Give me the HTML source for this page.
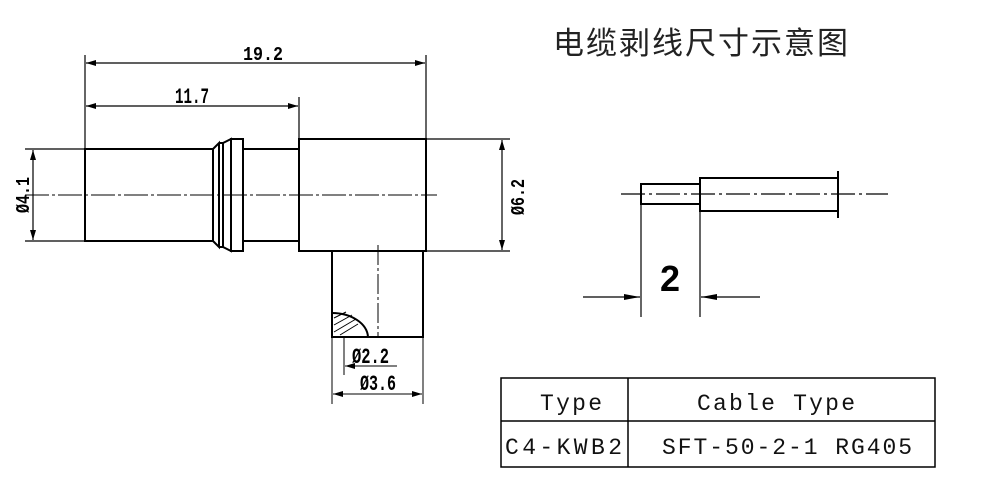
<!DOCTYPE html>
<html><head><meta charset="utf-8"><style>
body{margin:0;background:#fff;width:1000px;height:487px;overflow:hidden}
svg{display:block}
.m{font-family:"Liberation Mono",monospace}
</style></head><body>
<svg width="1000" height="487" viewBox="0 0 1000 487" xmlns="http://www.w3.org/2000/svg">
<defs>
<marker id="a" viewBox="0 0 10 6" refX="10" refY="3" markerWidth="10" markerHeight="6" orient="auto-start-reverse" markerUnits="userSpaceOnUse"><path d="M0,0 L10,3 L0,6z" fill="#000"/></marker>
<marker id="b" viewBox="0 0 16 8" refX="16" refY="4" markerWidth="16" markerHeight="8" orient="auto-start-reverse" markerUnits="userSpaceOnUse"><path d="M0,1 L16,4 L0,7z" fill="#000"/></marker>
</defs>
<text x="553" y="54" font-family="Liberation Sans,'Noto Sans CJK SC',sans-serif" font-size="31" letter-spacing="2" fill="#222">电缆剥线尺寸示意图</text>
<g stroke="#000" fill="none" stroke-width="1.2">
<line x1="85" y1="55" x2="85" y2="149"/><line x1="426" y1="55" x2="426" y2="139"/>
<line x1="86" y1="63" x2="425" y2="63" marker-start="url(#a)" marker-end="url(#a)"/>
<line x1="299" y1="97" x2="299" y2="139"/>
<line x1="86" y1="106" x2="298" y2="106" marker-start="url(#a)" marker-end="url(#a)"/>
<line x1="25" y1="149" x2="85" y2="149"/><line x1="25" y1="241" x2="85" y2="241"/>
<line x1="33" y1="150" x2="33" y2="240" marker-start="url(#a)" marker-end="url(#a)"/>
<line x1="426" y1="139" x2="510" y2="139"/><line x1="426" y1="251" x2="510" y2="251"/>
<line x1="502" y1="140" x2="502" y2="250" marker-start="url(#a)" marker-end="url(#a)"/>
</g>
<g stroke="#000" fill="none" stroke-width="2">
<rect x="85" y="149" width="128" height="92"/>
<path d="M213 149 L219 143 L219 247 L213 241"/>
<path d="M219 143 H223 V247 H219"/>
<path d="M223 143 L231 139 L231 251 L223 247"/>
<rect x="231" y="139" width="12" height="112"/>
<rect x="243" y="149" width="56" height="92"/>
<rect x="299" y="139" width="127" height="112"/>
<rect x="332" y="251" width="91" height="86"/>
<path d="M332 313 A36 25 0 0 1 368 337"/>
</g>
<g stroke="#000" stroke-width="1">
<path d="M334 318 L346 312 M334 325 L352 315 M334 332 L356 319 M340 335 L358 324"/>
<line x1="25" y1="195" x2="437" y2="195" stroke-dasharray="24,3,3,3"/>
<line x1="378" y1="245" x2="378" y2="337" stroke-dasharray="20,3,3,3"/>
<line x1="344" y1="337" x2="344" y2="375"/>
<line x1="397" y1="366" x2="345" y2="366" marker-end="url(#a)"/>
<line x1="332" y1="337" x2="332" y2="404"/><line x1="423" y1="337" x2="423" y2="404"/>
<line x1="333" y1="394" x2="422" y2="394" marker-start="url(#a)" marker-end="url(#a)"/>
</g>
<g class="m" font-weight="bold" fill="#000" font-size="22">
<text x="243" y="60" textLength="40" lengthAdjust="spacingAndGlyphs" font-size="19">19.2</text>
<text x="175" y="103" textLength="34" lengthAdjust="spacingAndGlyphs">11.7</text>
<text x="352" y="363" textLength="37" lengthAdjust="spacingAndGlyphs">Ø2.2</text>
<text x="360" y="390" textLength="36" lengthAdjust="spacingAndGlyphs">Ø3.6</text>
<text transform="translate(29,213) rotate(-90)" textLength="36" lengthAdjust="spacingAndGlyphs" font-size="19">Ø4.1</text>
<text transform="translate(524,215) rotate(-90)" textLength="36" lengthAdjust="spacingAndGlyphs" font-size="19">Ø6.2</text>
</g>
<g stroke="#000" fill="none" stroke-width="2">
<rect x="641" y="184" width="59" height="20"/>
<rect x="700" y="178" width="138" height="33"/>
<line x1="838" y1="171" x2="838" y2="218"/>
</g>
<g stroke="#000" stroke-width="1.2">
<line x1="621" y1="194" x2="888" y2="194" stroke-dasharray="24,4,3,4"/>
<line x1="641" y1="204" x2="641" y2="317"/><line x1="700" y1="211" x2="700" y2="317"/>
<line x1="583" y1="297" x2="640" y2="297" marker-end="url(#b)"/>
<line x1="760" y1="297" x2="701" y2="297" marker-end="url(#b)"/>
</g>
<text x="660" y="291" font-family="Liberation Sans,sans-serif" font-weight="bold" font-size="36" fill="#000">2</text>
<g stroke="#000" fill="none" stroke-width="1.5">
<rect x="501" y="378" width="434" height="89"/>
<line x1="501" y1="421" x2="935" y2="421"/>
<line x1="628" y1="378" x2="628" y2="467"/>
</g>
<g class="m" font-size="23" fill="#111">
<text x="540" y="410" textLength="62" lengthAdjust="spacing">Type</text>
<text x="697" y="410" textLength="158" lengthAdjust="spacing">Cable Type</text>
<text x="505" y="454" textLength="117" lengthAdjust="spacing">C4-KWB2</text>
<text x="662" y="454" textLength="250" lengthAdjust="spacing">SFT-50-2-1 RG405</text>
</g>
</svg>
</body></html>
